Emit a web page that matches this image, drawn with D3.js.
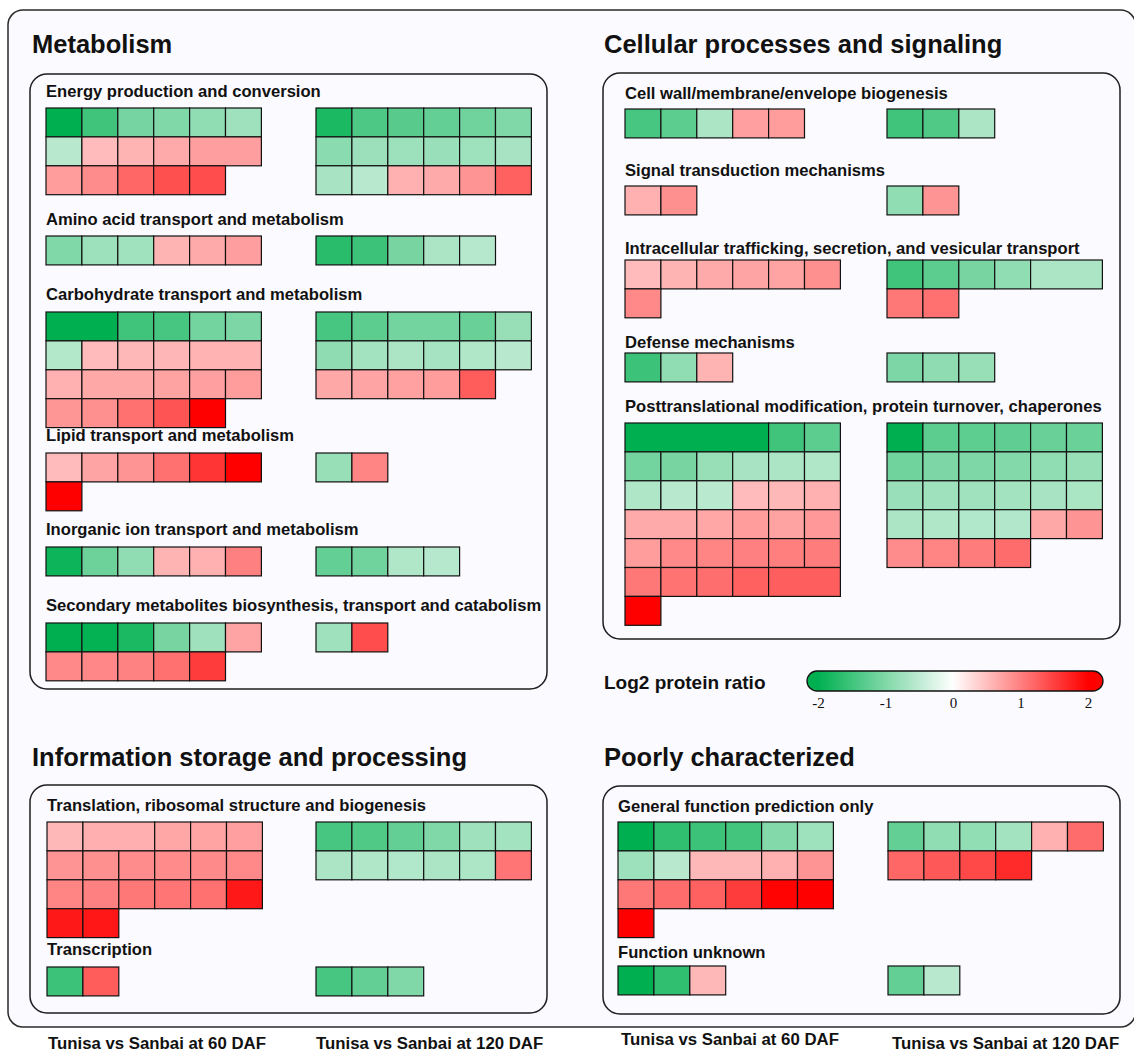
<!DOCTYPE html>
<html>
<head>
<meta charset="utf-8">
<script src="https://cdn.jsdelivr.net/npm/d3@7"></script>
<style>
  html, body { margin: 0; padding: 0; background: #ffffff; }
  svg { display: block; }
  text { font-family: "Liberation Sans", Arial, Helvetica, sans-serif; fill: #111; }
</style>
</head>
<body>
<svg id="chart" width="1134" height="1054"></svg>
<script>
// ---- Log2 protein ratios (Tunisa vs Sanbai), one flat list per functional class and time point.
// Lists wrap six cells per row; equal neighbours in a row are drawn as one merged cell.

// Metabolism
const energy_60  = [-2.0, -1.5, -1.08, -1.0, -0.87, -0.75, -0.56, 0.53, 0.59, 0.67, 0.76, 0.76, 0.78, 0.9, 1.2, 1.37, 1.4];
const energy_120 = [-1.78, -1.4, -1.31, -1.22, -1.12, -1.0, -0.92, -0.78, -0.77, -0.8, -0.76, -0.68, -0.68, -0.56, 0.62, 0.67, 0.84, 1.25];
const amino_60   = [-1.0, -0.77, -0.74, 0.59, 0.67, 0.76];
const amino_120  = [-1.69, -1.53, -1.06, -0.66, -0.57];
const carb_60    = [-2.0, -2.0, -1.5, -1.44, -1.09, -1.03, -0.59, 0.53, 0.56, 0.57, 0.6, 0.6, 0.62, 0.68, 0.68, 0.73, 0.75, 0.78, 0.82, 0.87, 1.12, 1.34, 2.0];
const carb_120   = [-1.44, -1.28, -1.09, -1.09, -1.18, -0.81, -0.88, -0.72, -0.66, -0.7, -0.62, -0.56, 0.68, 0.71, 0.74, 0.78, 1.28];
const lipid_60   = [0.53, 0.71, 0.84, 1.12, 1.59, 2.0, 2.0];
const lipid_120  = [-0.81, 0.96];
const inorg_60   = [-1.9, -1.15, -0.87, 0.59, 0.62, 1.0];
const inorg_120  = [-1.22, -1.12, -0.62, -0.57];
const second_60  = [-2.0, -1.97, -1.78, -1.06, -0.75, 0.71, 0.93, 0.94, 0.98, 1.12, 1.53];
const second_120 = [-0.75, 1.4];

// Cellular processes and signaling
const cellwall_60  = [-1.44, -1.28, -0.65, 0.75, 0.78];
const cellwall_120 = [-1.5, -1.37, -0.66];
const signal_60    = [0.62, 0.87];
const signal_120   = [-0.87, 0.84];
const traffic_60   = [0.53, 0.59, 0.67, 0.71, 0.72, 0.87, 0.93];
const traffic_120  = [-1.5, -1.28, -1.06, -0.87, -0.66, -0.66, 1.06, 1.12];
const defense_60   = [-1.53, -0.87, 0.59];
const defense_120  = [-1.03, -0.88, -0.81];
const ptm_60 = [-2.0, -2.0, -2.0, -2.0, -1.5, -1.28, -1.09, -1.06, -0.81, -0.68, -0.65, -0.62,
                -0.63, -0.56, -0.55, 0.53, 0.56, 0.62, 0.67, 0.67, 0.7, 0.78, 0.73, 0.8,
                0.78, 0.93, 0.96, 1.0, 1.01, 1.03, 1.06, 1.1, 1.14, 1.25, 1.26, 1.26, 2.0];
const ptm_120 = [-2.0, -1.28, -1.27, -1.25, -1.18, -1.17, -1.12, -1.03, -1.02, -0.97, -0.87, -0.81,
                 -0.8, -0.75, -0.74, -0.72, -0.68, -0.67, -0.65, -0.62, -0.61, -0.6, 0.68, 0.84,
                 0.9, 0.96, 1.03, 1.15];

// Information storage and processing
const transl_60  = [0.56, 0.63, 0.63, 0.7, 0.72, 0.75, 0.84, 0.87, 0.9, 0.91, 0.92, 0.93, 0.96, 1.0, 1.06, 1.09, 1.12, 1.81, 1.81, 1.83];
const transl_120 = [-1.44, -1.37, -1.22, -1.0, -0.75, -0.72, -0.65, -0.62, -0.61, -0.66, -0.64, 1.09];
const transcr_60  = [-1.53, 1.28];
const transcr_120 = [-1.44, -1.22, -1.0];

// Poorly characterized
const general_60  = [-2.0, -1.62, -1.53, -1.47, -0.97, -0.76, -0.77, -0.56, 0.56, 0.56, 0.62, 0.84, 1.06, 1.15, 1.25, 1.53, 1.98, 2.0, 2.0];
const general_120 = [-1.22, -0.87, -0.86, -0.72, 0.62, 1.15, 1.2, 1.31, 1.43, 1.66];
const unknown_60  = [-2.0, -1.62, 0.56];
const unknown_120 = [-1.22, -0.56];

// Class names and panel headings
const metabolismClasses = ["Energy production and conversion", "Amino acid transport and metabolism",
  "Carbohydrate transport and metabolism", "Lipid transport and metabolism",
  "Inorganic ion transport and metabolism", "Secondary metabolites biosynthesis, transport and catabolism"];
const cellularClasses = ["Cell wall/membrane/envelope biogenesis", "Signal transduction mechanisms",
  "Intracellular trafficking, secretion, and vesicular transport", "Defense mechanisms",
  "Posttranslational modification, protein turnover, chaperones"];
const informationClasses = ["Translation, ribosomal structure and biogenesis", "Transcription"];
const poorlyClasses = ["General function prediction only", "Function unknown"];
const panelTitles = ["Metabolism", "Cellular processes and signaling", "Information storage and processing", "Poorly characterized"];
const comparisonLabels = ["Tunisa vs Sanbai at 60 DAF", "Tunisa vs Sanbai at 120 DAF"];
const legendTitle = "Log2 protein ratio";
const legendTicks = [-2, -1, 0, 1, 2];

// ---- Layout
const CELL_W = 35.9, CELL_H = 28.9, PER_ROW = 6;

const panels = [
  { title: panelTitles[0], tx: 32, ty: 53, box: [30, 74, 517, 615], x60: 46, x120: 316, labelX: 46,
    groups: [
      { name: metabolismClasses[0], v60: energy_60,  v120: energy_120,  ty: 97,  gy: 108 },
      { name: metabolismClasses[1], v60: amino_60,   v120: amino_120,   ty: 225, gy: 236 },
      { name: metabolismClasses[2], v60: carb_60,    v120: carb_120,    ty: 300, gy: 312 },
      { name: metabolismClasses[3], v60: lipid_60,   v120: lipid_120,   ty: 441, gy: 453 },
      { name: metabolismClasses[4], v60: inorg_60,   v120: inorg_120,   ty: 535, gy: 547 },
      { name: metabolismClasses[5], v60: second_60,  v120: second_120,  ty: 611, gy: 623 }
    ] },
  { title: panelTitles[1], tx: 604, ty: 53, box: [603, 73, 517, 566], x60: 625, x120: 887, labelX: 625,
    groups: [
      { name: cellularClasses[0], v60: cellwall_60, v120: cellwall_120, ty: 99,  gy: 109 },
      { name: cellularClasses[1], v60: signal_60,   v120: signal_120,   ty: 176, gy: 186 },
      { name: cellularClasses[2], v60: traffic_60,  v120: traffic_120,  ty: 254, gy: 260 },
      { name: cellularClasses[3], v60: defense_60,  v120: defense_120,  ty: 348, gy: 353 },
      { name: cellularClasses[4], v60: ptm_60,      v120: ptm_120,      ty: 412, gy: 423 }
    ] },
  { title: panelTitles[2], tx: 32, ty: 766, box: [30, 785, 517, 228], x60: 47, x120: 316, labelX: 47,
    groups: [
      { name: informationClasses[0], v60: transl_60,  v120: transl_120,  ty: 811, gy: 822 },
      { name: informationClasses[1], v60: transcr_60, v120: transcr_120, ty: 955, gy: 967 }
    ] },
  { title: panelTitles[3], tx: 604, ty: 766, box: [603, 786, 517, 228], x60: 618, x120: 888, labelX: 618,
    groups: [
      { name: poorlyClasses[0], v60: general_60, v120: general_120, ty: 812, gy: 822 },
      { name: poorlyClasses[1], v60: unknown_60, v120: unknown_120, ty: 958, gy: 966 }
    ] }
];

// ---- Colour scale: green (down) - white - red (up)
const color = d3.scaleLinear()
  .domain([-2, 0, 2])
  .range(["#00b050", "#ffffff", "#ff0000"])
  .interpolate(d3.interpolateRgb)
  .clamp(true);

const svg = d3.select("#chart");
const BG = "#fbfaff";

// Outer frame (its right edge runs along the page border)
svg.append("rect")
  .attr("x", 8).attr("y", 10).attr("width", 1127.5).attr("height", 1017)
  .attr("rx", 15).attr("ry", 15)
  .attr("fill", BG).attr("stroke", "#2a2a2a").attr("stroke-width", 1.5);

// Split a flat list into rows of six, then merge equal neighbours into spans
function toSpans(values) {
  const rows = d3.range(Math.ceil(values.length / PER_ROW)).map(r => values.slice(r * PER_ROW, (r + 1) * PER_ROW));
  const spans = [];
  rows.forEach((row, r) => {
    let c = 0;
    while (c < row.length) {
      let n = 1;
      while (c + n < row.length && row[c + n] === row[c]) n++;
      spans.push({ row: r, col: c, span: n, value: row[c] });
      c += n;
    }
  });
  return { spans, nRows: rows.length };
}

function drawGrid(g, values, x0, y0) {
  const { spans, nRows } = toSpans(values);
  const x = d3.scaleLinear().domain([0, PER_ROW]).range([x0, x0 + PER_ROW * CELL_W]);
  const y = d3.scaleLinear().domain([0, nRows]).range([y0, y0 + nRows * CELL_H]);
  g.selectAll(null)
    .data(spans)
    .join("rect")
    .attr("x", d => x(d.col))
    .attr("y", d => y(d.row))
    .attr("width", d => x(d.col + d.span) - x(d.col))
    .attr("height", d => y(d.row + 1) - y(d.row))
    .attr("fill", d => color(d.value))
    .attr("stroke", "#111")
    .attr("stroke-width", 1.2);
}

panels.forEach(p => {
  const g = svg.append("g");
  g.append("text")
    .attr("x", p.tx).attr("y", p.ty)
    .attr("font-size", 25.5).attr("font-weight", "bold")
    .text(p.title);
  g.append("rect")
    .attr("x", p.box[0]).attr("y", p.box[1]).attr("width", p.box[2]).attr("height", p.box[3])
    .attr("rx", 17).attr("ry", 17)
    .attr("fill", BG).attr("stroke", "#1e1e1e").attr("stroke-width", 1.5);
  p.groups.forEach(grp => {
    g.append("text")
      .attr("x", p.labelX).attr("y", grp.ty)
      .attr("font-size", 16.6).attr("font-weight", "bold")
      .text(grp.name);
    drawGrid(g.append("g"), grp.v60, p.x60, grp.gy);
    drawGrid(g.append("g"), grp.v120, p.x120, grp.gy);
  });
});

// ---- Legend
const lg = svg.append("g");
lg.append("text")
  .attr("x", 604).attr("y", 689)
  .attr("font-size", 19).attr("font-weight", "bold")
  .text(legendTitle);

const lx = d3.scaleLinear().domain([-2, 2]).range([818, 1088]);
const barX0 = 807, barX1 = 1103, barY = 671, barH = 20;
const grad = svg.append("defs").append("linearGradient")
  .attr("id", "ratioGradient")
  .attr("x1", "0%").attr("x2", "100%").attr("y1", "0%").attr("y2", "0%");
grad.selectAll("stop")
  .data(d3.range(-2, 2.001, 0.25))
  .join("stop")
  .attr("offset", d => ((lx(d) - barX0) / (barX1 - barX0) * 100) + "%")
  .attr("stop-color", d => color(d));
lg.append("rect")
  .attr("x", barX0).attr("y", barY).attr("width", barX1 - barX0).attr("height", barH)
  .attr("rx", 10).attr("ry", 10)
  .attr("fill", "url(#ratioGradient)")
  .attr("stroke", "#111").attr("stroke-width", 1.3);

const axis = lg.append("g")
  .attr("transform", `translate(0,${barY + barH})`)
  .call(d3.axisBottom(lx).tickValues(legendTicks).tickSize(0).tickPadding(6).tickFormat(d => String(d)));
axis.select(".domain").remove();
axis.attr("font-family", "'Liberation Serif', 'Times New Roman', serif").attr("font-size", 15);
axis.selectAll("text")
  .style("font-family", "'Liberation Serif', 'Times New Roman', serif")
  .attr("font-size", 15)
  .attr("fill", "#111");

// ---- Comparison labels under each column of grids
const bottomLabels = [
  { text: comparisonLabels[0], x: 48,  y: 1049 },
  { text: comparisonLabels[1], x: 316, y: 1049 },
  { text: comparisonLabels[0], x: 621, y: 1045 },
  { text: comparisonLabels[1], x: 892, y: 1049 }
];
svg.append("g").selectAll("text")
  .data(bottomLabels)
  .join("text")
  .attr("x", d => d.x).attr("y", d => d.y)
  .attr("font-size", 16.8).attr("font-weight", "bold")
  .text(d => d.text);
</script>
</body>
</html>
